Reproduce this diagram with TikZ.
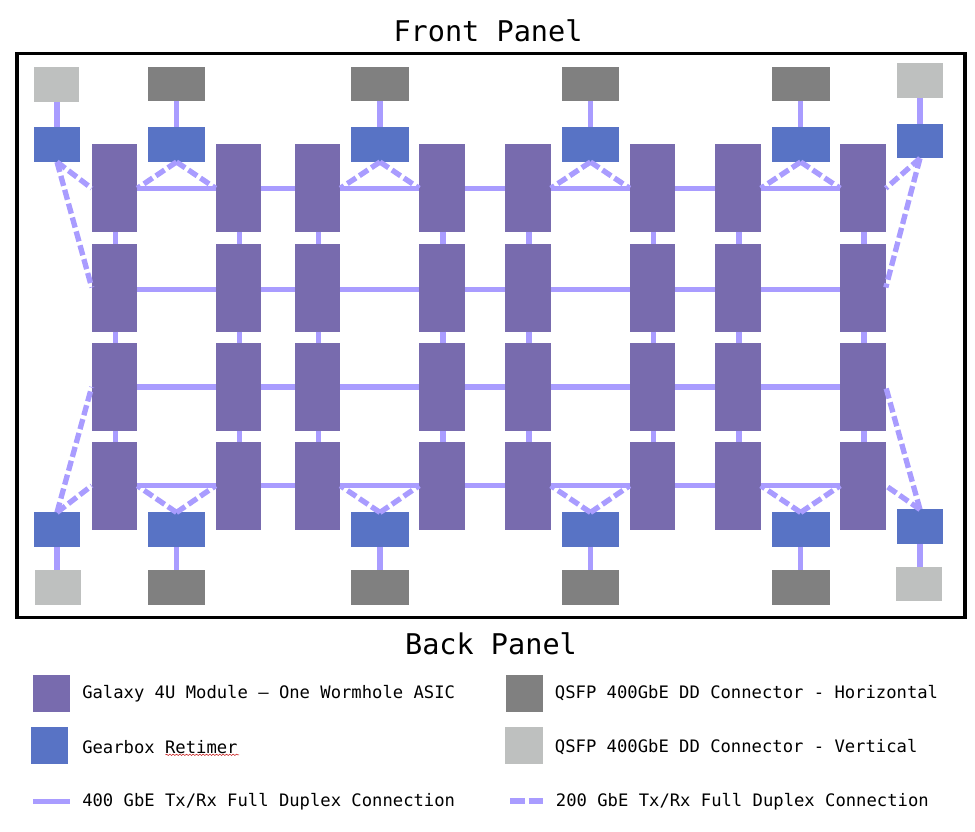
\documentclass[tikz,border=0pt]{standalone}
\usepackage{fontspec}
\setmainfont{DejaVu Sans Mono}
\usetikzlibrary{positioning,decorations.pathmorphing}

\definecolor{modcol}{HTML}{786BAE}
\definecolor{retcol}{HTML}{5873C5}
\definecolor{darkcol}{HTML}{808080}
\definecolor{lightcol}{HTML}{BEC0BF}
\definecolor{linkcol}{HTML}{A99CFF}

\tikzset{
	box/.style={inner sep=0pt, outer sep=0pt, draw=none},
	module/.style={box, fill=modcol, minimum width=34.2pt, minimum height=66pt},
	retimer/.style={box, fill=retcol, minimum width=34.2pt, minimum height=25.9pt},
	retwide/.style={retimer, minimum width=43.2pt},
	qsfpv/.style={box, fill=lightcol, minimum width=34.2pt, minimum height=25.9pt},
	qsfph/.style={box, fill=darkcol, minimum width=43.2pt, minimum height=25.9pt},
	swatch/.style={box, minimum width=28pt, minimum height=28pt},
	link/.style={draw=linkcol, line width=4pt, line cap=butt},
	halflink/.style={link, dash pattern=on 7.8pt off 3pt},
	title/.style={font=\fontsize{21.4}{24}\selectfont},
	legend/.style={anchor=west, inner sep=0pt, font=\fontsize{12.9}{16}\selectfont}
}

\begin{document}
\begin{tikzpicture}[x=0.75pt,y=-0.75pt]
	\useasboundingbox (0,0) rectangle (975,832);
	
	% ---- titles + frame
	\node[title] (front) at (488,31) {Front Panel};
	\node[title] (back) at (491,644) {Back Panel};
	\draw[black, line width=2.7pt] (16.7,53.5) rectangle (965,617.5);
	
	% ---- modules (column / row)
	\foreach \c/\x in {1/114.5,2/238.5,3/317.5,4/442,5/528,6/652.5,7/738,8/863}{
		\foreach \r/\y in {1/188.3,2/287.5,3/387,4/485.7}{
			\node[module] (m-\c-\r) at (\x,\y) {};
		}
	}
	
	% ---- retimers + connectors, top and bottom
	\foreach \i/\x in {1/176.5,2/380,3/590.5,4/800.7}{
		\node[retwide] (rt-\i) at (\x,144.7) {};
		\node[qsfph] (qt-\i) at (\x,84) {};
		\node[retwide] (rb-\i) at (\x,529.7) {};
		\node[qsfph] (qb-\i) at (\x,587.7) {};
		\draw[link] (qt-\i) -- (rt-\i);
		\draw[link] (rb-\i) -- (qb-\i);
	}
	\node[retimer] (rtl) at (57,144.7) {};
	\node[qsfpv] (qtl) at (56.5,84.3) {};
	\node[retimer] (rtr) at (920,141) {};
	\node[qsfpv] (qtr) at (920.2,80.5) {};
	\node[retimer] (rbl) at (57,529.7) {};
	\node[qsfpv] (qbl) at (57.7,587.7) {};
	\node[retimer] (rbr) at (920,526.7) {};
	\node[qsfpv] (qbr) at (919,584) {};
	\foreach \a/\b in {qtl/rtl,qtr/rtr}{
		\draw[link] (\b.north) -- (\b.north |- \a.south);
	}
	\foreach \a/\b in {rbl/qbl,rbr/qbr}{
		\draw[link] (\a.south) -- (\a.south |- \b.north);
	}
	
	% row links, the second row sits a bit lower
	\foreach \r/\o in {1/0,2/1.8,3/0,4/0}{
		\foreach \c/\d in {1/2,2/3,3/4,4/5,5/6,6/7,7/8}{
			\draw[link] ([yshift=-\o*0.75pt]m-\c-\r.east) -- ([yshift=-\o*0.75pt]m-\d-\r.west);
		}
	}
	% column links
	\foreach \c in {1,...,8}{
		\foreach \r/\s in {1/2,2/3,3/4}{
			\draw[link] ([xshift=0.7pt]m-\c-\r.south) -- ([xshift=0.7pt]m-\c-\s.north);
		}
	}
	
	% 200G links, retimer to modules
	\foreach \i/\a/\b in {1/1/2,2/3/4,3/5/6,4/7/8}{
		\draw[halflink] (rt-\i.south) -- (m-\a-1.east);
		\draw[halflink] (rt-\i.south) -- (m-\b-1.west);
		\draw[halflink] (rb-\i.north) -- (m-\a-4.east);
		\draw[halflink] (rb-\i.north) -- (m-\b-4.west);
	}
	\draw[halflink] (rtl.south) -- (m-1-1.west);
	\draw[halflink] (rtl.south) -- (m-1-2.west);
	\draw[halflink] (rbl.north) -- (m-1-4.west);
	\draw[halflink] (rbl.north) -- (m-1-3.west);
	\draw[halflink] (rtr.south) -- (m-8-1.east);
	\draw[halflink] (rtr.south) -- (m-8-2.east);
	\draw[halflink] (rbr.north) -- (m-8-4.east);
	\draw[halflink] (rbr.north) -- (m-8-3.east);
	
	% ---- legend
	\node[swatch, fill=modcol] (keymod) at (51.2,693.2) {};
	\node[swatch, fill=retcol] (keyret) at (49.5,745.7) {};
	\node[swatch, fill=darkcol] (keydark) at (524.5,693.2) {};
	\node[swatch, fill=lightcol] (keylight) at (524,745.5) {};
	\coordinate (keyfull-a) at (33,801.5);
	\coordinate (keyfull-b) at (69.5,801.5);
	\coordinate (keyhalf-a) at (510,801);
	\coordinate (keyhalf-b) at (543,801);
	\draw[link] (keyfull-a) -- (keyfull-b);
	\draw[halflink, dash pattern=on 11pt off 3pt] (keyhalf-a) -- (keyhalf-b);
	
	\node[legend] (txtmod) at (82,693.5) {Galaxy 4U Module – One Wormhole ASIC};
	\node[legend] (txtret) at (82,747) {Gearbox Retimer};
	\node[legend] (txtfull) at (82,801.5) {400 GbE Tx/Rx Full Duplex Connection};
	\node[legend] (txtdark) at (554.7,693.5) {QSFP 400GbE DD Connector - Horizontal};
	\node[legend] (txtlight) at (554.7,747) {QSFP 400GbE DD Connector - Vertical};
	\node[legend] (txthalf) at (555.7,801.5) {200 GbE Tx/Rx Full Duplex Connection};
	
	% spell check squiggle under the one word
	\draw[red!75!black, line width=0.35pt, decorate, decoration={snake,amplitude=0.5pt,segment length=2.5pt}]
	(165.5,754.8) -- (239,754.8);
\end{tikzpicture}
\end{document}
